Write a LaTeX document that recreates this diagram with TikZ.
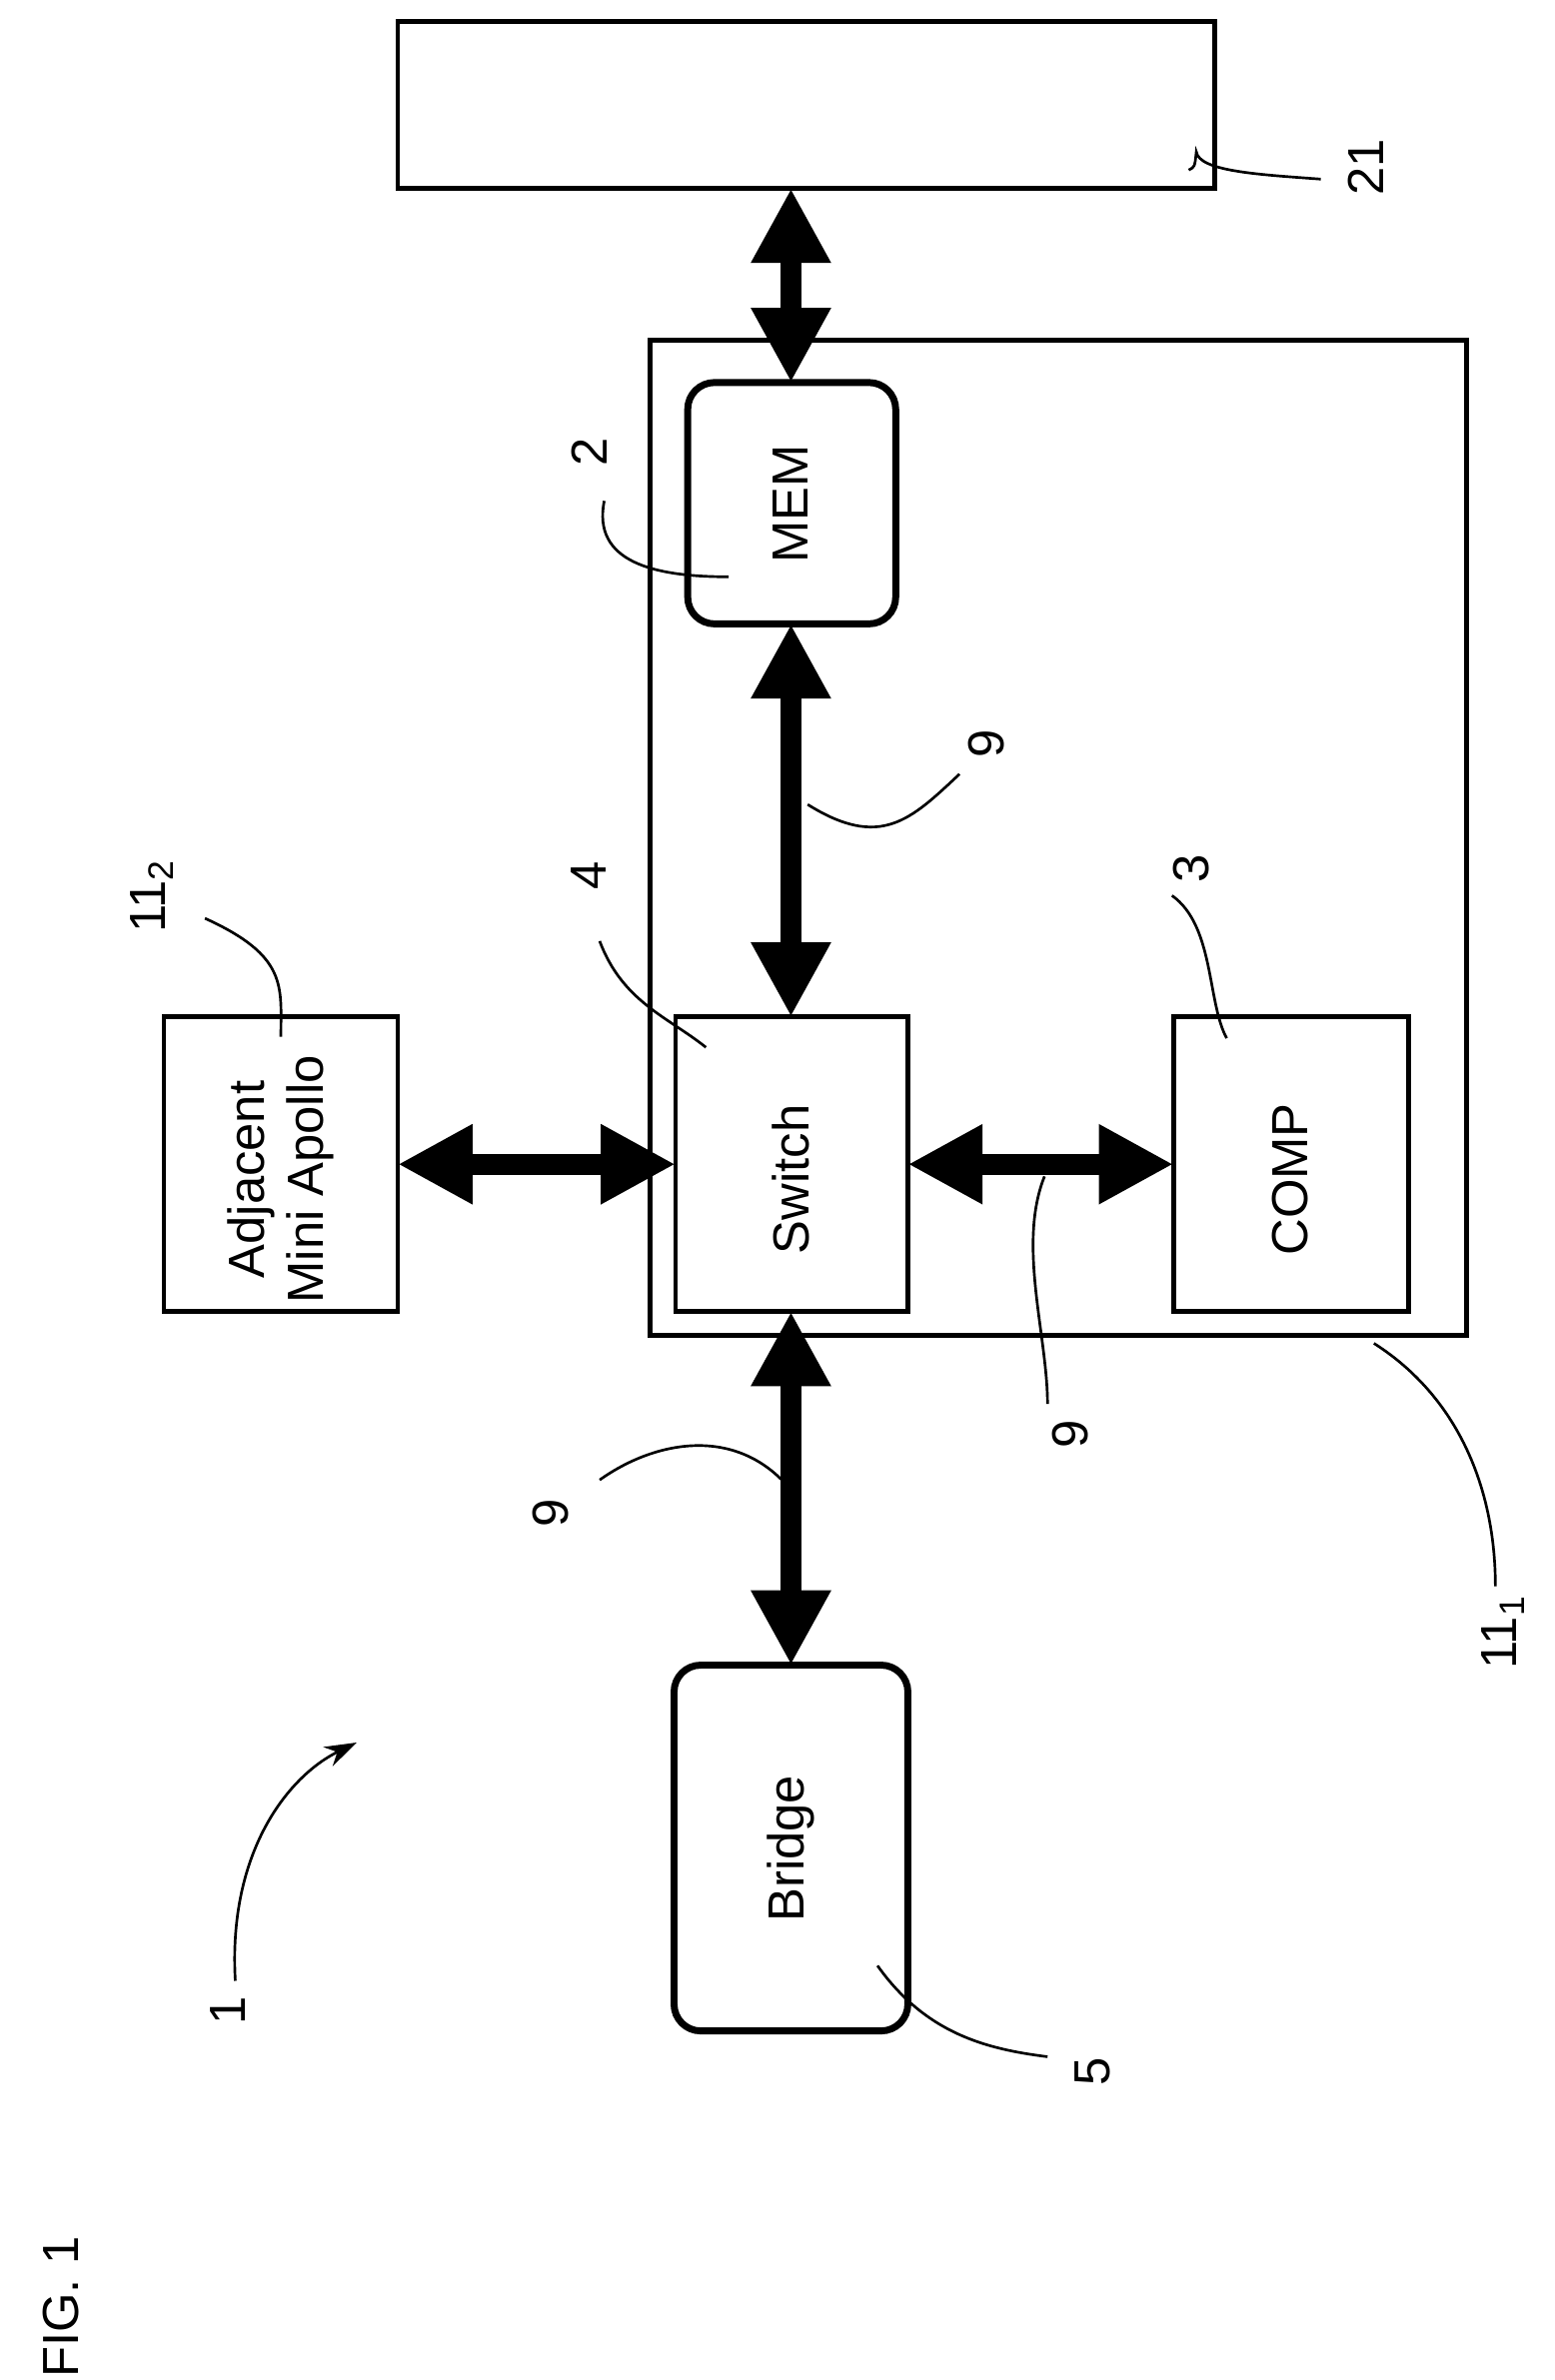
\documentclass[tikz,border=0pt]{standalone}
\usepackage{fontspec}
\setmainfont{Liberation Sans}
\usetikzlibrary{arrows.meta}
\begin{document}
\begin{tikzpicture}[x=0.01cm,y=-0.01cm,
  box/.style={draw,line width=0.9pt},
  rbox/.style={draw,line width=1.3pt,rounded corners=5pt},
  bus/.style={line width=4pt,{Triangle[length=14pt,width=14pt]}-{Triangle[length=14pt,width=14pt]}},
  lead/.style={line width=0.5pt},
  txt/.style={rotate=90,font=\fontsize{9.5}{11}\selectfont,align=center}]
\useasboundingbox (0,0) rectangle (1024,1568);
\draw[box] (262,14) rectangle (800,124);
\coordinate (t21) at (521,124);
\draw[box] (428,224) rectangle (966,880);
\draw[rbox] (453,252) rectangle (590,411);
\node[txt] (mem) at (521,332) {MEM};
\draw[box] (445,670) rectangle (598,864);
\node[txt] (sw) at (521,777) {Switch};
\draw[box] (773,670) rectangle (928,864);
\node[txt] (comp) at (850,777) {COMP};
\draw[box] (108,670) rectangle (262,864);
\node[txt] (adj) at (185,777) {Adjacent\\Mini Apollo};
\draw[rbox] (444,1097) rectangle (598,1338);
\node[txt] (br) at (521,1218) {Bridge};
\coordinate (a1) at (521,124); \coordinate (a2) at (521,252);
\coordinate (b1) at (521,411); \coordinate (b2) at (521,670);
\coordinate (c1) at (521,864); \coordinate (c2) at (521,1097);
\coordinate (d1) at (262,767); \coordinate (d2) at (445,767);
\coordinate (e1) at (598,767); \coordinate (e2) at (773,767);
\draw[bus] (a1) -- (a2);
\draw[bus] (b1) -- (b2);
\draw[bus] (c1) -- (c2);
\draw[bus] (d1) -- (d2);
\draw[bus] (e1) -- (e2);
\node[txt] (l21) at (900,110) {21};
\draw[lead] (870,118) .. controls (830,115) and (790,113) .. (788,100) .. controls (787,110) .. (783,112);
\node[txt] (l2) at (388,298) {2};
\draw[lead] (398,330) .. controls (390,370) and (430,380) .. (480,380);
\node[txt] (l9a) at (650,490) {9};
\draw[lead] (532,530) .. controls (580,560) and (600,540) .. (632,510);
\node[txt] (l3) at (785,572) {3};
\draw[lead] (772,590) .. controls (800,610) and (795,660) .. (808,684);
\node[txt] (l4) at (388,577) {4};
\draw[lead] (395,620) .. controls (410,660) and (440,670) .. (465,690);
\node[txt] (l11b) at (100,590) {11\textsubscript{2}};
\draw[lead] (135,605) .. controls (190,630) and (185,650) .. (185,683);
\node[txt] (l9b) at (705,945) {9};
\draw[lead] (688,775) .. controls (670,820) and (690,880) .. (690,925);
\node[txt] (l9c) at (363,997) {9};
\draw[lead] (395,975) .. controls (430,950) and (480,940) .. (515,975);
\node[txt] (l11a) at (990,1075) {11\textsubscript{1}};
\draw[lead] (905,885) .. controls (960,920) and (985,980) .. (985,1045);
\node[txt] (l1) at (150,1325) {1};
\draw[lead,-{Stealth[length=6pt,width=4pt]}] (155,1305) .. controls (150,1220) and (190,1170) .. (235,1148);
\node[txt] (l5) at (720,1365) {5};
\draw[lead] (578,1295) .. controls (610,1340) and (650,1350) .. (690,1355);
\node[txt] (fig) at (40,1520) {FIG. 1};
\end{tikzpicture}
\end{document}
